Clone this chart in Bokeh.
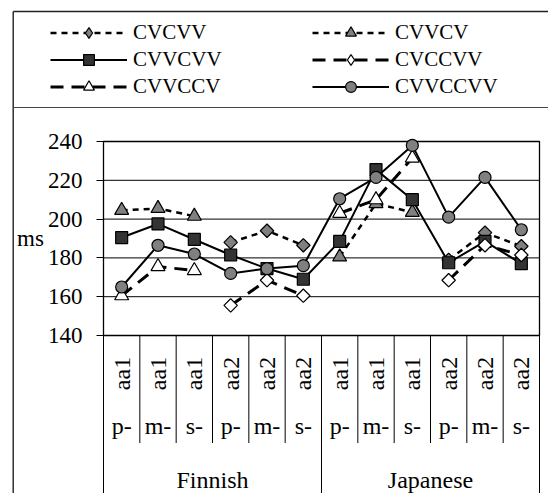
import math
from bokeh.plotting import figure
from bokeh.models import Range1d, FixedTicker, Legend, LegendItem, Label, LinearAxis
from bokeh.embed import file_html
from bokeh.resources import INLINE

NaN = float("nan")

# ---- data -------------------------------------------------------------
languages = ["Finnish", "Japanese"]
vowels = ["aa1", "aa2"]
onsets = ["p-", "m-", "s-"]
y_ticks = [140, 160, 180, 200, 220, 240]
y_label = "ms"

# 12 categories: language > vowel > onset
categories = [(lang, vow, ons) for lang in languages for vow in vowels for ons in onsets]

cvcvv   = [NaN, NaN, NaN, 188.0, 194.0, 186.5, NaN, NaN, NaN, 179.0, 193.0, 186.0]
cvvcv   = [204.5, 205.5, 201.5, NaN, NaN, NaN, 180.5, 208.0, 203.5, NaN, NaN, NaN]
cvvcvv  = [190.5, 197.5, 189.5, 181.5, 174.5, 169.0, 188.5, 225.5, 210.0, 177.5, 188.5, 177.0]
cvccvv  = [NaN, NaN, NaN, 155.5, 168.5, 160.5, NaN, NaN, NaN, 168.5, 186.5, 181.5]
cvvccv  = [160.5, 175.5, 173.5, NaN, NaN, NaN, 203.0, 210.0, 231.5, NaN, NaN, NaN]
cvvccvv = [165.0, 186.5, 182.0, 172.0, 174.5, 176.0, 210.5, 221.5, 238.0, 201.0, 221.5, 194.5]

series_names = ["CVCVV", "CVVCV", "CVVCVV", "CVCCVV", "CVVCCV", "CVVCCVV"]
series_values = [cvcvv, cvvcv, cvvcvv, cvccvv, cvvccv, cvvccvv]

# ---- styles -----------------------------------------------------------
DOT = "6 5"
DASH = "13 8"
# "rot": drawn as a square turned 45 degrees (a diamond) in the plot
styles = {
    "CVCVV":   dict(dash=DOT,     lw=2.5, marker="square",   fill="#808080", size=9.5, rot=True),
    "CVVCV":   dict(dash=DOT,     lw=2.5, marker="triangle", fill="#808080", size=14,  rot=False),
    "CVVCVV":  dict(dash="solid", lw=2.0, marker="square",   fill="#333333", size=12,  rot=False),
    "CVCCVV":  dict(dash=DASH,    lw=3.0, marker="square",   fill="#ffffff", size=9.5, rot=True),
    "CVVCCV":  dict(dash=DASH,    lw=3.0, marker="triangle", fill="#ffffff", size=14,  rot=False),
    "CVVCCVV": dict(dash="solid", lw=2.0, marker="circle",   fill="#808080", size=12,  rot=False),
}

FONT = "Liberation Serif"
W, H = 548, 493
# plot area in canvas pixels
PL, PR, PT, PB = 103, 539, 141, 335
n = len(categories)
PX_X = (PR - PL) / n
PX_Y = (PB - PT) / (y_ticks[-1] - y_ticks[0])


def xd(px):
    return (px - PL) / PX_X


def yd(py):
    return y_ticks[0] + (PB - py) / PX_Y


p = figure(width=W, height=H, x_range=Range1d(xd(0), xd(W)), y_range=Range1d(yd(H), yd(0)),
           output_backend="svg", toolbar_location=None, x_axis_location=None, y_axis_location=None,
           min_border=0)
p.background_fill_color = "white"
p.border_fill_color = "white"
p.outline_line_color = None
p.xgrid.visible = False
p.ygrid.visible = False

# grid lines and plot-area border
p.segment(x0=0, x1=n, y0=y_ticks, y1=y_ticks, line_color="black", line_width=1)
p.quad(left=0, right=n, bottom=y_ticks[0], top=y_ticks[-1], fill_color=None,
       line_color="black", line_width=1.3)

# y axis fixed at the left edge of the plot area
ax = LinearAxis(fixed_location=0, ticker=FixedTicker(ticks=y_ticks))
ax.axis_line_color = None
ax.major_tick_in = 0
ax.major_tick_out = 7
ax.major_tick_line_color = "black"
ax.major_tick_line_width = 1.2
ax.minor_tick_line_color = None
ax.major_label_standoff = 14
ax.major_label_text_font = FONT
ax.major_label_text_font_size = "23px"
ax.major_label_text_color = "black"
p.add_layout(ax, "left")

xs = [i + 0.5 for i in range(n)]
renders = {}
for name, vals in zip(series_names, series_values):
    st = styles[name]
    lr = p.line(xs, vals, line_color="black", line_width=st["lw"], line_dash=st["dash"])
    sr = p.scatter(xs, vals, marker=st["marker"], size=st["size"],
                   angle=math.pi / 4 if st["rot"] else 0,
                   fill_color=st["fill"], line_color="black", line_width=1.2)
    if st["rot"]:
        # legend symbols are not rotated, so the legend uses a diamond marker (no visible points)
        sr = p.scatter(xs, [NaN] * n, marker="diamond", size=14, fill_color=st["fill"],
                       line_color="black", line_width=1.2)
    renders[name] = [lr, sr]


# ---- legend (two columns) ---------------------------------------------
def make_legend(names, loc):
    return Legend(items=[LegendItem(label=nm, renderers=renders[nm]) for nm in names],
                  location=loc, glyph_width=77, glyph_height=27, label_height=27, spacing=0,
                  padding=0, margin=0, label_standoff=6, border_line_color=None,
                  background_fill_alpha=0, label_text_font=FONT, label_text_font_size="21px",
                  label_text_color="black")


p.add_layout(make_legend(series_names[0::2], (50, H - 100)))
p.add_layout(make_legend(series_names[1::2], (312, H - 100)))

# ---- y label ----------------------------------------------------------
p.add_layout(Label(x=xd(30), y=yd(238), text=y_label, text_font=FONT, text_font_size="23px",
                   text_align="center", text_baseline="middle", text_color="black"))

# ---- category labels ---------------------------------------------------
for i, (lang, vow, ons) in enumerate(categories):
    p.add_layout(Label(x=i + 0.5, y=yd(373), text=vow, angle=math.pi / 2, text_font=FONT,
                       text_font_size="24px", text_align="center", text_baseline="middle",
                       text_color="black"))
    p.add_layout(Label(x=i + 0.5, y=yd(425), text=ons, text_font=FONT,
                       text_font_size="24px", text_align="center", text_baseline="middle",
                       text_color="black"))
per_lang = len(vowels) * len(onsets)
for j, lang in enumerate(languages):
    p.add_layout(Label(x=j * per_lang + per_lang / 2, y=yd(479), text=lang, text_font=FONT,
                       text_font_size="24px", text_align="center", text_baseline="middle",
                       text_color="black"))

# ---- separators -------------------------------------------------------
bounds = list(range(n + 1))
long_b = [k for k in bounds if k % per_lang == 0]
short_b = [k for k in bounds if k % per_lang != 0]
p.segment(x0=short_b, x1=short_b, y0=y_ticks[0], y1=yd(442.5), line_color="black", line_width=1)
p.segment(x0=long_b, x1=long_b, y0=y_ticks[0], y1=yd(H + 5), line_color="black", line_width=1)

# outer box and legend divider
p.segment(x0=xd(12.7), x1=xd(12.7), y0=yd(H + 5), y1=yd(11), line_color="#222222", line_width=1.4)
p.segment(x0=xd(12.7), x1=xd(W + 5), y0=yd(11), y1=yd(11), line_color="#222222", line_width=1.4)
p.segment(x0=xd(12.7), x1=xd(W + 5), y0=yd(107), y1=yd(107), line_color="#444444", line_width=1.2)

open("out.html", "w").write(file_html(p, INLINE))
